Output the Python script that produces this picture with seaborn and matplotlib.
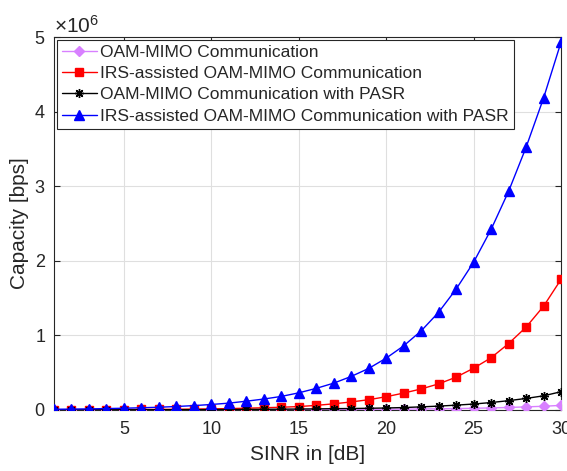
import numpy as np
import pandas as pd
import matplotlib
matplotlib.use("Agg")
import matplotlib.pyplot as plt
import seaborn as sns
from matplotlib.ticker import ScalarFormatter

sinr = list(range(1, 31))

oam = [0.002, 0.002, 0.002, 0.002, 0.002, 0.002, 0.002, 0.003, 0.003, 0.003,
       0.003, 0.004, 0.004, 0.005, 0.005, 0.006, 0.007, 0.008, 0.009, 0.010,
       0.012, 0.014, 0.016, 0.019, 0.023, 0.028, 0.034, 0.042, 0.050, 0.062]
irs = [0.004, 0.004, 0.005, 0.005, 0.006, 0.007, 0.008, 0.010, 0.012, 0.015,
       0.019, 0.024, 0.030, 0.037, 0.046, 0.062, 0.083, 0.108, 0.138, 0.178,
       0.227, 0.282, 0.350, 0.440, 0.560, 0.700, 0.890, 1.110, 1.390, 1.750]
pasr = [0.002, 0.002, 0.002, 0.003, 0.003, 0.003, 0.004, 0.004, 0.005, 0.006,
        0.007, 0.008, 0.009, 0.011, 0.013, 0.015, 0.018, 0.020, 0.023, 0.027,
        0.033, 0.042, 0.052, 0.065, 0.080, 0.100, 0.125, 0.155, 0.190, 0.245]
irs_pasr = [0.010, 0.012, 0.015, 0.019, 0.024, 0.030, 0.037, 0.047, 0.059, 0.074,
            0.092, 0.118, 0.147, 0.182, 0.230, 0.290, 0.360, 0.450, 0.557, 0.695,
            0.860, 1.060, 1.310, 1.620, 1.980, 2.420, 2.930, 3.520, 4.180, 4.930]

labels = ["OAM-MIMO Communication",
          "IRS-assisted OAM-MIMO Communication",
          "OAM-MIMO Communication with PASR",
          "IRS-assisted OAM-MIMO Communication with PASR"]
series = [oam, irs, pasr, irs_pasr]

rows = []
for lab, vals in zip(labels, series):
    for x, v in zip(sinr, vals):
        rows.append({"SINR": x, "Capacity": v * 1e6, "Series": lab})
df = pd.DataFrame(rows)

sns.set_theme(style="whitegrid")
plt.rcParams['font.family'] = ['Liberation Sans', 'DejaVu Sans']
plt.rcParams['mathtext.fontset'] = 'custom'
plt.rcParams['mathtext.rm'] = 'Liberation Sans'

fig = plt.figure(figsize=(5.67, 4.71), dpi=100)
ax = fig.add_axes([54 / 567, 61 / 471, 507 / 567, 373 / 471])

styles = {
    labels[0]: dict(color="#D880FF", marker="D", ms=5.5, mew=1.0),
    labels[1]: dict(color="#FF0000", marker="s", ms=5.5, mew=1.0),
    labels[2]: dict(color="#000000", marker=(8, 2, 0), ms=6.5, mew=1.0),
    labels[3]: dict(color="#0000FF", marker="^", ms=7.5, mew=1.0),
}
for lab in labels:
    st = styles[lab]
    sub = df[df["Series"] == lab]
    sns.lineplot(data=sub, x="SINR", y="Capacity", ax=ax, color=st["color"],
                 marker=st["marker"], markersize=st["ms"], markeredgecolor=st["color"],
                 markeredgewidth=st["mew"], linewidth=1.0, label=lab, zorder=3)

ax.set_xlim(1, 30)
ax.set_ylim(0, 5e6)
ax.set_xticks([5, 10, 15, 20, 25, 30])
ax.set_yticks([0, 1e6, 2e6, 3e6, 4e6, 5e6])
fmt = ScalarFormatter(useMathText=True)
fmt.set_powerlimits((0, 0))
ax.yaxis.set_major_formatter(fmt)
ax.yaxis.get_offset_text().set_fontsize(15)
ax.yaxis.get_offset_text().set_color("#262626")

ax.set_xlabel("SINR in [dB]", fontsize=15, color="#262626", labelpad=5)
ax.set_ylabel("Capacity [bps]", fontsize=15, color="#262626", labelpad=4)
ax.tick_params(axis="both", labelsize=13, colors="#262626", direction="in",
               length=4, width=0.8, left=True, bottom=True, right=True, top=True)
ax.tick_params(axis="x", pad=8)
ax.tick_params(axis="y", pad=6)
ax.grid(True, color="#DFDFDF", linewidth=0.8)
for s in ax.spines.values():
    s.set_color("#262626")
    s.set_linewidth(0.8)
ax.set_facecolor("white")

leg = ax.legend(loc="upper left", fontsize=12.5, frameon=True, fancybox=False,
                borderpad=0.3, labelspacing=0.35, handlelength=2.0, handletextpad=0.2,
                borderaxespad=0.15)
leg.get_frame().set_edgecolor("#262626")
leg.get_frame().set_linewidth(0.8)
leg.get_frame().set_alpha(1)

fig.savefig("out.png", dpi=100)
